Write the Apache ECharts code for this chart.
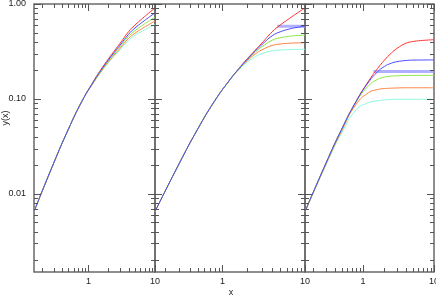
<!DOCTYPE html>
<html>
<head>
<meta charset="utf-8">
<script src="https://cdn.jsdelivr.net/npm/echarts@6/dist/echarts.min.js"></script>
<style>
  html, body { margin: 0; padding: 0; background: #fff; }
  #chart { width: 436px; height: 298px; }
</style>
</head>
<body>
<div id="chart"></div>
<script>
// shared x samples for the curves
const xs = [0.152, 0.3, 0.5, 0.8, 1.2, 1.6, 2, 2.5, 3, 4, 5, 6.5, 8, 10];

// panel 1
const p1Red = [0.0065, 0.021, 0.048, 0.0947, 0.155, 0.212, 0.265, 0.327, 0.387, 0.51, 0.60, 0.706, 0.80, 0.906];
const p1Blue = [0.0065, 0.021, 0.048, 0.0947, 0.153, 0.208, 0.258, 0.316, 0.37, 0.479, 0.558, 0.646, 0.72, 0.806];
const p1Green = [0.0065, 0.021, 0.048, 0.0947, 0.152, 0.205, 0.252, 0.306, 0.356, 0.456, 0.522, 0.597, 0.656, 0.725];
const p1Orange = [0.0065, 0.021, 0.048, 0.0947, 0.15, 0.201, 0.246, 0.296, 0.342, 0.434, 0.492, 0.554, 0.604, 0.661];
const p1Cyan = [0.0065, 0.021, 0.048, 0.0947, 0.149, 0.198, 0.241, 0.288, 0.331, 0.413, 0.468, 0.519, 0.56, 0.607];

// panel 2
const p2Red = [0.0065, 0.021, 0.048, 0.0947, 0.155, 0.212, 0.265, 0.327, 0.387, 0.51, 0.60, 0.706, 0.80, 0.906];
const p2PurpleX = [4.6, 10];
const p2Purple = [0.582, 0.582];
const p2Blue = [0.0065, 0.021, 0.048, 0.0947, 0.155, 0.211, 0.262, 0.32, 0.373, 0.462, 0.509, 0.546, 0.567, 0.582];
const p2Green = [0.0065, 0.021, 0.048, 0.0947, 0.1546, 0.21, 0.259, 0.3115, 0.3544, 0.415, 0.4406, 0.4574, 0.4652, 0.4706];
const p2Orange = [0.0065, 0.021, 0.048, 0.0947, 0.1544, 0.2078, 0.253, 0.2973, 0.3289, 0.3657, 0.3788, 0.3863, 0.3888, 0.391];
const p2Cyan = [0.0065, 0.021, 0.048, 0.0947, 0.1536, 0.2043, 0.244, 0.2786, 0.30, 0.3211, 0.3272, 0.3302, 0.3324, 0.3335];

// panel 3
const p3Red = [0.0065, 0.021, 0.048, 0.0947, 0.1546, 0.2088, 0.2557, 0.3037, 0.3397, 0.3852, 0.4018, 0.4115, 0.4164, 0.4208];
const p3PurpleX = [1.4, 10];
const p3Purple = [0.194, 0.194];
const p3Blue = [0.0065, 0.021, 0.048, 0.0943, 0.1506, 0.193, 0.2197, 0.2378, 0.2466, 0.2538, 0.2563, 0.2568, 0.2573, 0.2576];
const p3Green = [0.0065, 0.021, 0.0479, 0.0929, 0.1383, 0.1603, 0.1696, 0.1737, 0.1751, 0.1764, 0.1768, 0.177, 0.177, 0.177];
const p3Orange = [0.0065, 0.0205, 0.0462, 0.088, 0.1165, 0.1255, 0.1285, 0.1298, 0.1304, 0.131, 0.131, 0.131, 0.131, 0.131];
const p3Cyan = [0.0065, 0.0201, 0.0438, 0.0768, 0.0912, 0.0956, 0.0975, 0.0985, 0.099, 0.099, 0.099, 0.099, 0.099, 0.099];

// ticks
const xMajor = [1, 10];
const xMajorLabels = ['1', '10'];
const xMinor = [0.2, 0.3, 0.4, 0.5, 0.6, 0.7, 0.8, 0.9, 2, 3, 4, 5, 6, 7, 8, 9];
const yMajor = [0.01, 0.1, 1];
const yMajorLabels = ['0.01', '0.10', '1.00'];
const yMinor = [0.002, 0.003, 0.004, 0.005, 0.006, 0.007, 0.008, 0.009,
  0.02, 0.03, 0.04, 0.05, 0.06, 0.07, 0.08, 0.09,
  0.2, 0.3, 0.4, 0.5, 0.6, 0.7, 0.8, 0.9];

const colors = {
  red: '#ff3030',
  blue: '#4848ff',
  green: '#88e840',
  orange: '#ff8040',
  cyan: '#8cf8dc',
  purple: '#9c9cff',
};

const chart = echarts.init(document.getElementById('chart'));

const tickColor = '#555';
const labelFont = '9px "Liberation Sans", Arial, sans-serif';

const pairs = (xv, yv) => xv.map((x, i) => [x, yv[i]]);

const renderXTick = (params, api) => {
  const cs = params.coordSys;
  const px = Math.round(api.coord([api.value(0), api.value(1)])[0]) + 0.5;
  const len = api.value(2);
  const bottom = cs.y + cs.height;
  return {
    type: 'group',
    children: [
      { type: 'line', shape: { x1: px, y1: bottom, x2: px, y2: bottom - len }, style: { stroke: tickColor, lineWidth: 1 } },
      { type: 'line', shape: { x1: px, y1: cs.y, x2: px, y2: cs.y + len }, style: { stroke: tickColor, lineWidth: 1 } },
    ],
  };
};

const renderYTick = (params, api) => {
  const cs = params.coordSys;
  const py = Math.round(api.coord([api.value(0), api.value(1)])[1]) + 0.5;
  const len = api.value(2);
  const right = cs.x + cs.width;
  return {
    type: 'group',
    children: [
      { type: 'line', shape: { x1: cs.x, y1: py, x2: cs.x + len, y2: py }, style: { stroke: tickColor, lineWidth: 1 } },
      { type: 'line', shape: { x1: right, y1: py, x2: right - len, y2: py }, style: { stroke: tickColor, lineWidth: 1 } },
    ],
  };
};

const renderXLabel = (params, api) => {
  const cs = params.coordSys;
  const px = api.coord([api.value(0), api.value(1)])[0];
  return {
    type: 'text',
    x: px,
    y: cs.y + cs.height + 5,
    style: { text: xMajorLabels[params.dataIndex], fill: '#222', font: labelFont, align: 'center', verticalAlign: 'top' },
  };
};

const renderYLabel = (params, api) => {
  const cs = params.coordSys;
  const py = api.coord([api.value(0), api.value(1)])[1];
  return {
    type: 'text',
    x: cs.x - 8,
    y: py,
    style: { text: yMajorLabels[params.dataIndex], fill: '#222', font: labelFont, align: 'right', verticalAlign: 'middle' },
  };
};

const grids = [
  { left: 34, top: 4, width: 121, height: 268 },
  { left: 155, top: 4, width: 150, height: 268 },
  { left: 305, top: 4, width: 129, height: 268 },
];

const panels = [
  [
    ['red', xs, p1Red], ['cyan', xs, p1Cyan], ['orange', xs, p1Orange],
    ['green', xs, p1Green], ['blue', xs, p1Blue],
  ],
  [
    ['purple', p2PurpleX, p2Purple], ['red', xs, p2Red], ['cyan', xs, p2Cyan],
    ['orange', xs, p2Orange], ['green', xs, p2Green], ['blue', xs, p2Blue],
  ],
  [
    ['purple', p3PurpleX, p3Purple], ['red', xs, p3Red], ['cyan', xs, p3Cyan],
    ['orange', xs, p3Orange], ['green', xs, p3Green], ['blue', xs, p3Blue],
  ],
];

const series = [];
panels.forEach((lines, i) => {
  lines.forEach(([name, xv, yv]) => {
    const isPurple = name === 'purple';
    series.push({
      type: 'line',
      name,
      xAxisIndex: i,
      yAxisIndex: i,
      data: pairs(xv, yv),
      showSymbol: false,
      smooth: isPurple ? false : 0.5,
      lineStyle: { color: colors[name], width: isPurple ? 3 : 1, opacity: isPurple ? 0.8 : 1 },
      silent: true,
      z: isPurple ? 2 : 3,
    });
  });
  series.push({
    type: 'custom', xAxisIndex: i, yAxisIndex: i, silent: true, clip: false, z: 5,
    data: xMajor.map((v) => [v, 0.01, 7]).concat(xMinor.map((v) => [v, 0.01, 4])),
    renderItem: renderXTick,
  });
  series.push({
    type: 'custom', xAxisIndex: i, yAxisIndex: i, silent: true, clip: false, z: 5,
    data: yMajor.map((v) => [1, v, 7]).concat(yMinor.map((v) => [1, v, 4])),
    renderItem: renderYTick,
  });
  series.push({
    type: 'custom', xAxisIndex: i, yAxisIndex: i, silent: true, clip: false, z: 5,
    data: xMajor.map((v) => [v, 0.01]),
    renderItem: renderXLabel,
  });
  if (i === 0) {
    series.push({
      type: 'custom', xAxisIndex: i, yAxisIndex: i, silent: true, clip: false, z: 5,
      data: yMajor.map((v) => [1, v]),
      renderItem: renderYLabel,
    });
  }
});

const option = {
  animation: false,
  grid: grids.map((g) => ({
    ...g,
    show: true,
    borderColor: '#6a6a6a',
    borderWidth: 1.5,
    backgroundColor: 'transparent',
  })),
  xAxis: grids.map((g, i) => ({
    type: 'log',
    logBase: 10,
    gridIndex: i,
    min: 0.152,
    max: 10,
    axisLine: { show: false },
    axisTick: { show: false },
    axisLabel: { show: false },
    splitLine: { show: false },
  })),
  yAxis: grids.map((g, i) => ({
    type: 'log',
    logBase: 10,
    gridIndex: i,
    min: 0.0015,
    max: 1,
    axisLine: { show: false },
    axisTick: { show: false },
    axisLabel: { show: false },
    splitLine: { show: false },
  })),
  graphic: [
    {
      type: 'text', x: 231, y: 293,
      style: { text: 'x', fill: '#222', font: labelFont, align: 'center', verticalAlign: 'middle' },
    },
    {
      type: 'text', x: 6, y: 118, rotation: Math.PI / 2,
      style: { text: 'y(x)', fill: '#222', font: labelFont, align: 'center', verticalAlign: 'middle' },
    },
  ],
  series,
};

chart.setOption(option);
</script>
</body>
</html>
